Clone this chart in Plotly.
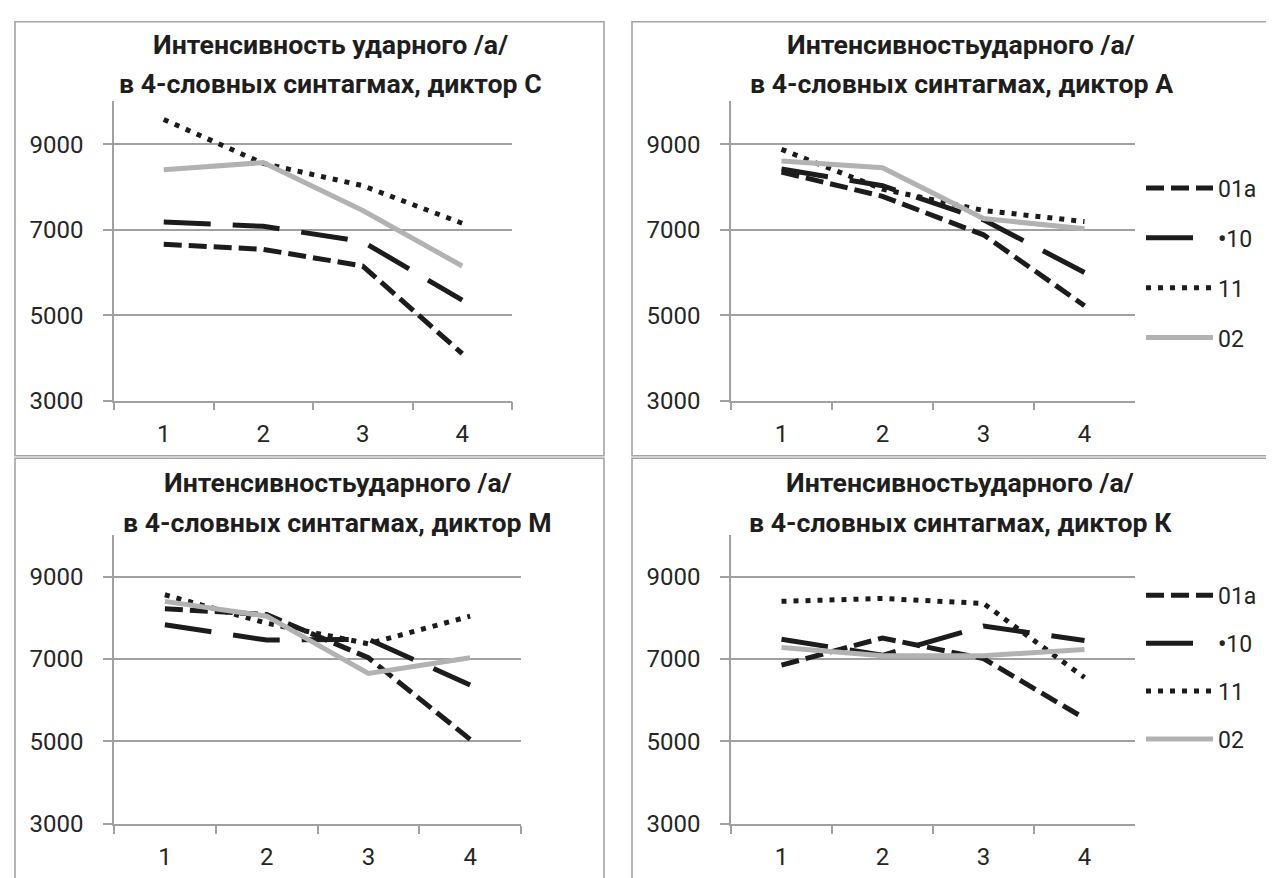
import plotly.graph_objects as go

W, H = 1274, 878

categories = ["1", "2", "3", "4"]
series_names = ["01a", "10", "11", "02"]
legend_labels = ["01a", "<b>•</b>10", "11", "02"]

# Speaker C (top-left)
c_01a = [6660, 6540, 6150, 4100]
c_10 = [7180, 7080, 6720, 5350]
c_11 = [9580, 8550, 8030, 7150]
c_02 = [8400, 8570, 7450, 6150]

# Speaker A (top-right)
a_01a = [8350, 7780, 6880, 5220]
a_10 = [8420, 8030, 7230, 6000]
a_11 = [8880, 7950, 7450, 7190]
a_02 = [8610, 8450, 7260, 7020]

# Speaker M (bottom-left)
m_01a = [8220, 8080, 7030, 5050]
m_10 = [7830, 7460, 7480, 6370]
m_11 = [8560, 7870, 7370, 8040]
m_02 = [8400, 8040, 6650, 7030]

# Speaker K (bottom-right)
k_01a = [6850, 7510, 7010, 5560]
k_10 = [7480, 7090, 7800, 7450]
k_11 = [8400, 8470, 8350, 6550]
k_02 = [7280, 7080, 7080, 7230]

yticks = [3000, 5000, 7000, 9000]
title_line1 = [
    "Интенсивность ударного /а/",
    "Интенсивностьударного /а/",
    "Интенсивностьударного /а/",
    "Интенсивностьударного /а/",
]
title_line2 = [
    "в 4-словных синтагмах, диктор С",
    "в 4-словных синтагмах, диктор А",
    "в 4-словных синтагмах, диктор М",
    "в 4-словных синтагмах, диктор К",
]

FONT = "Roboto"
DARK = "#1c1c1c"
GREY = "#b2b2b2"
AXC = "#a0a0a0"

styles = [
    dict(color=DARK, width=5, dash="18px,7px"),
    dict(color=DARK, width=5, dash="47px,22px"),
    dict(color=DARK, width=5, dash="5px,7px"),
    dict(color=GREY, width=5, dash="solid"),
]

panels = [
    ([c_01a, c_10, c_11, c_02], "x", "y", None),
    ([a_01a, a_10, a_11, a_02], "x2", "y2", "legend"),
    ([m_01a, m_10, m_11, m_02], "x3", "y3", None),
    ([k_01a, k_10, k_11, k_02], "x4", "y4", "legend2"),
]

fig = go.Figure()
for pi, (vals, xa, ya, leg) in enumerate(panels):
    for si, v in enumerate(vals):
        if leg:
            kw = dict(showlegend=True, legend=leg,
                      legendgroup=f"{leg}_{series_names[si]}")
        else:
            kw = dict(showlegend=False)
        fig.add_trace(go.Scatter(
            x=categories, y=v, mode="lines", name=legend_labels[si],
            line=styles[si], xaxis=xa, yaxis=ya, hoverinfo="skip", **kw))

def px_x(p):
    return p / W

def px_y(p):
    return 1 - p / H

xdoms = [(106, 504), (723, 1127), (106, 513), (723, 1127)]
ydoms = [(95, 399), (95, 399), (536, 829), (536, 829)]

layout = dict(
    width=W, height=H, margin=dict(l=0, r=0, t=0, b=0),
    paper_bgcolor="white", plot_bgcolor="white",
    font=dict(family=FONT, size=24, color="#262626"),
)
for i in range(4):
    sx = "" if i == 0 else str(i + 1)
    layout["xaxis" + sx] = dict(
        domain=[px_x(xdoms[i][0]), px_x(xdoms[i][1])],
        anchor="y" + sx, type="category", tickson="boundaries",
        ticks="outside", ticklen=8, tickcolor=AXC, tickwidth=1.5,
        showline=True, linecolor=AXC, linewidth=1.5, showgrid=False,
        tickfont=dict(family=FONT, size=24, color="#262626"),
        ticklabelstandoff=11, range=[-0.5, 3.5], fixedrange=True,
    )
    layout["yaxis" + sx] = dict(
        domain=[px_y(ydoms[i][1]), px_y(ydoms[i][0])],
        anchor="x" + sx, range=[3000, 10000], tickvals=yticks,
        ticktext=[str(t) for t in yticks],
        ticks="outside", ticklen=9, tickcolor=AXC, tickwidth=1.5,
        showline=True, linecolor=AXC, linewidth=1.5,
        showgrid=True, gridcolor=AXC, gridwidth=1.5, zeroline=False,
        tickfont=dict(family=FONT, size=24, color="#262626"),
        ticklabelstandoff=15, fixedrange=True,
    )

legend_common = dict(
    font=dict(family=FONT, size=23, color="#262626"),
    itemwidth=67, bgcolor="rgba(0,0,0,0)",
    xanchor="left", yanchor="top", itemclick=False, itemdoubleclick=False,
)
layout["legend"] = dict(x=px_x(1133), y=px_y(161), tracegroupgap=17, **legend_common)
layout["legend2"] = dict(x=px_x(1133), y=px_y(575), tracegroupgap=15, **legend_common)

fig.update_layout(**layout)

title_pos = [(322, 38, 77), (953, 38, 77), (330, 483, 523), (952, 483, 523)]
for l1, l2, (cx, y1, y2) in zip(title_line1, title_line2, title_pos):
    for txt, yy in ((l1, y1), (l2, y2)):
        fig.add_annotation(
            text=f"<b>{txt}</b>", x=px_x(cx), y=px_y(yy), xref="paper", yref="paper",
            showarrow=False, xanchor="center", yanchor="middle",
            font=dict(family=FONT, size=26.7, color="#1e1e1e"),
        )

# panel borders
BC = "#a3a3a3"
borders = [(7, 14, 596, 455), (624, 14, 1290, 455), (7, 457.5, 596, 900), (624, 457.5, 1290, 900)]
for x0, y0, x1, y1 in borders:
    fig.add_shape(type="rect", xref="paper", yref="paper",
                  x0=px_x(x0), x1=px_x(x1), y0=px_y(y1), y1=px_y(y0),
                  line=dict(color=BC, width=1.6), layer="below")

fig.write_html("out.html")
